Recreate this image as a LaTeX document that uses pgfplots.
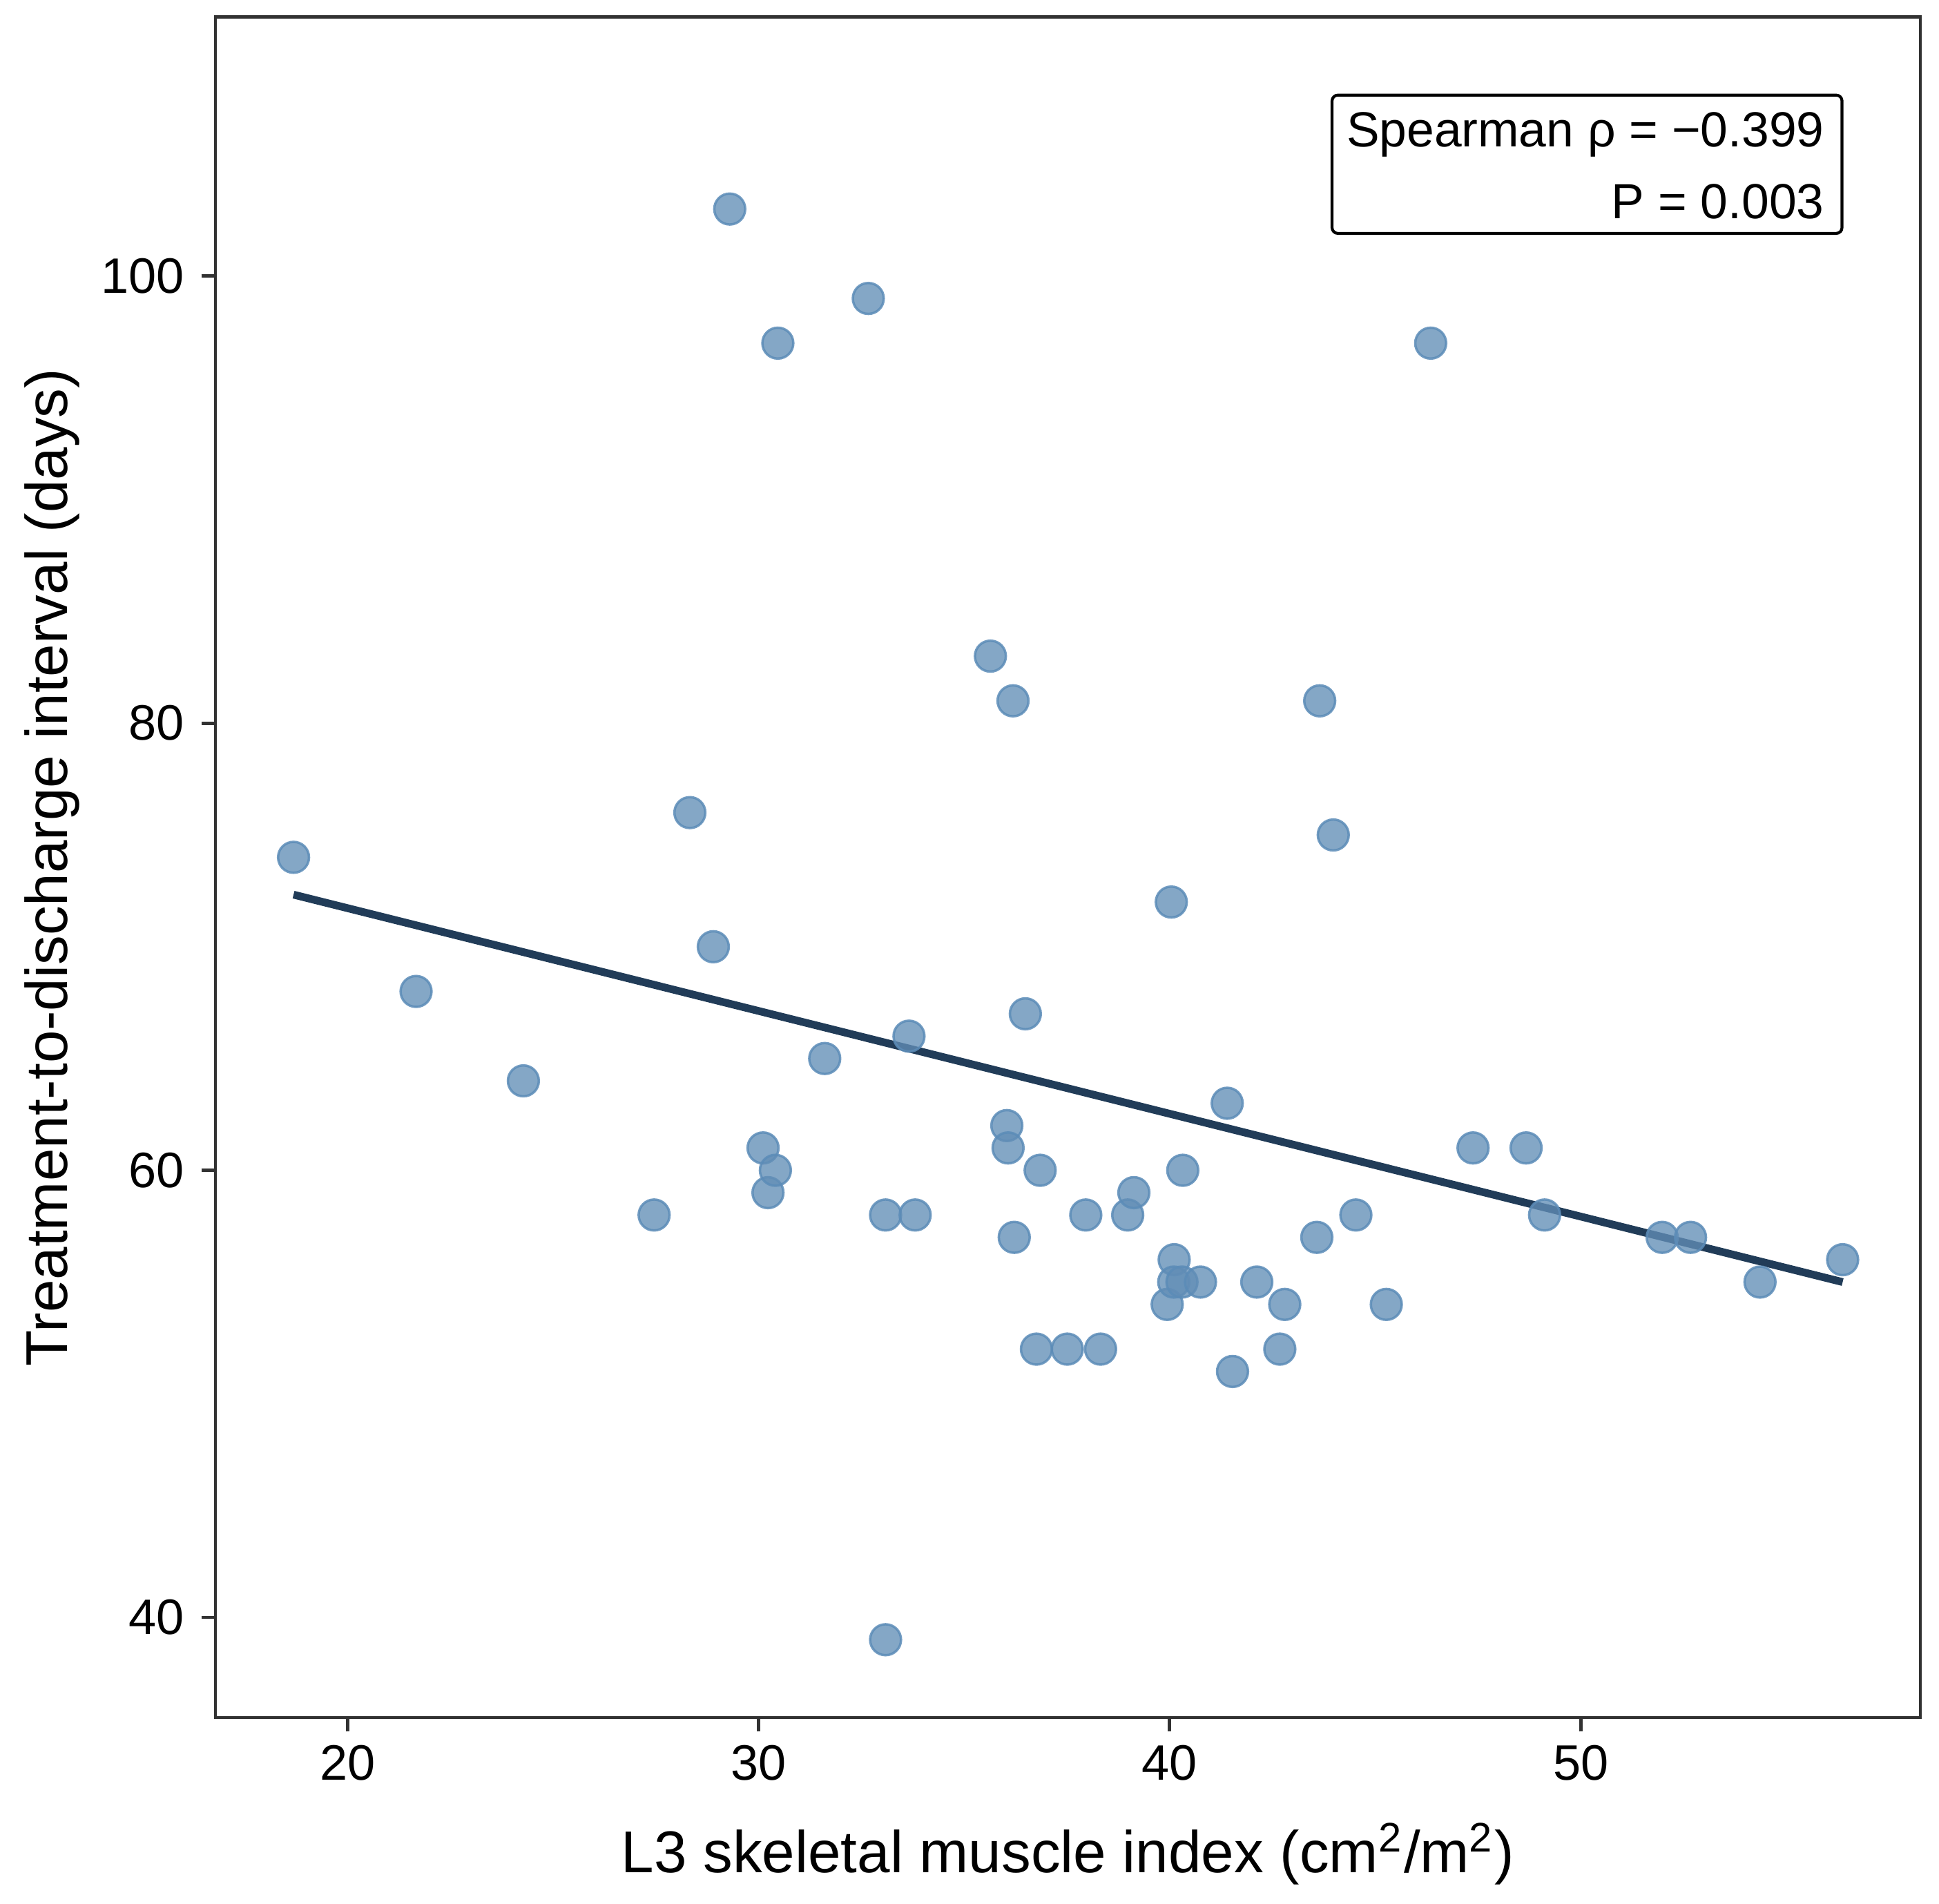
\documentclass[border=0pt]{standalone}
\usepackage{fontspec}
\setmainfont{Liberation Sans}
\usepackage{pgfplots}
\pgfplotsset{compat=1.18}
\definecolor{ptcol}{RGB}{98,142,182}
\definecolor{ptedge}{RGB}{92,140,184}
\definecolor{linecol}{RGB}{33,60,88}
\definecolor{axcol}{RGB}{50,50,50}
\pgfplotstableread{
x y
18.69 74
21.67 68
24.28 64
27.46 58
28.33 76
28.90 70
29.30 103
30.11 61
30.23 59
30.41 60
30.47 97
31.61 65
32.67 99
33.09 58
33.09 39
33.66 66
33.81 58
35.64 83
36.04 62
36.07 61
36.19 81
36.22 57
36.49 67
36.76 52
36.85 60
37.51 52
37.96 58
38.32 52
38.98 58
39.13 59
39.94 54
40.04 72
40.11 56
40.10 55
40.30 55
40.32 60
40.75 55
41.40 63
41.53 51
42.12 55
42.68 52
42.80 54
43.58 57
43.65 81
43.98 75
44.53 58
45.27 54
46.35 97
47.38 61
48.67 61
49.12 58
51.98 57
52.67 57
54.36 55
56.37 56
}\pts
\begin{document}
\begin{tikzpicture}
\path[use as bounding box] (-44.57pt,-38.43pt) rectangle (356.57pt,355.28pt);
\begin{axis}[
  at={(0,0)}, anchor=south west,
  scale only axis, width=352.71pt, height=351.71pt,
  xmin=16.79, xmax=58.26, ymin=35.52, ymax=111.58,
  xtick={20,30,40,50}, ytick={40,60,80,100},
  xtick pos=bottom, ytick pos=left,
  tick align=outside, major tick length=2.9pt,
  tick style={axcol, line width=0.7pt},
  axis line style={axcol, line width=0.7pt},
  ticklabel style={font=\fontsize{10.3}{12}\selectfont},
  xticklabel style={yshift=0.7pt},
  /pgf/number format/assume math mode=true,
  xlabel={L3 skeletal muscle index (cm\textsuperscript{2}/m\textsuperscript{2})},
  ylabel={Treatment-to-discharge interval (days)},
  label style={font=\fontsize{12.2}{14}\selectfont},
  xlabel style={at={(axis description cs:0.5,-0.09127)}, anchor=base},
  ylabel style={at={(axis description cs:-0.08676,0.5)}, anchor=base},
]
\addplot[only marks, mark=*, mark size=3.2pt,
  mark options={fill=ptcol, fill opacity=0.78, draw=ptedge, draw opacity=0.85, line width=0.5pt}]
  table[x=x, y=y] {\pts};
\addplot[linecol, line width=1.6pt, line cap=butt] coordinates {(18.69,72.33) (56.37,55.0)};
\end{axis}
\draw[black, line width=0.6pt, rounded corners=1.2pt] (231.0pt,307.0pt) rectangle (336.5pt,335.6pt);
\node[anchor=base east, inner sep=0pt, font=\fontsize{10.2}{12}\selectfont] at (333.0pt,324.9pt) {Spearman ρ = −0.399};
\node[anchor=base east, inner sep=0pt, font=\fontsize{10.2}{12}\selectfont] at (333.0pt,310.0pt) {P = 0.003};
\end{tikzpicture}
\end{document}
